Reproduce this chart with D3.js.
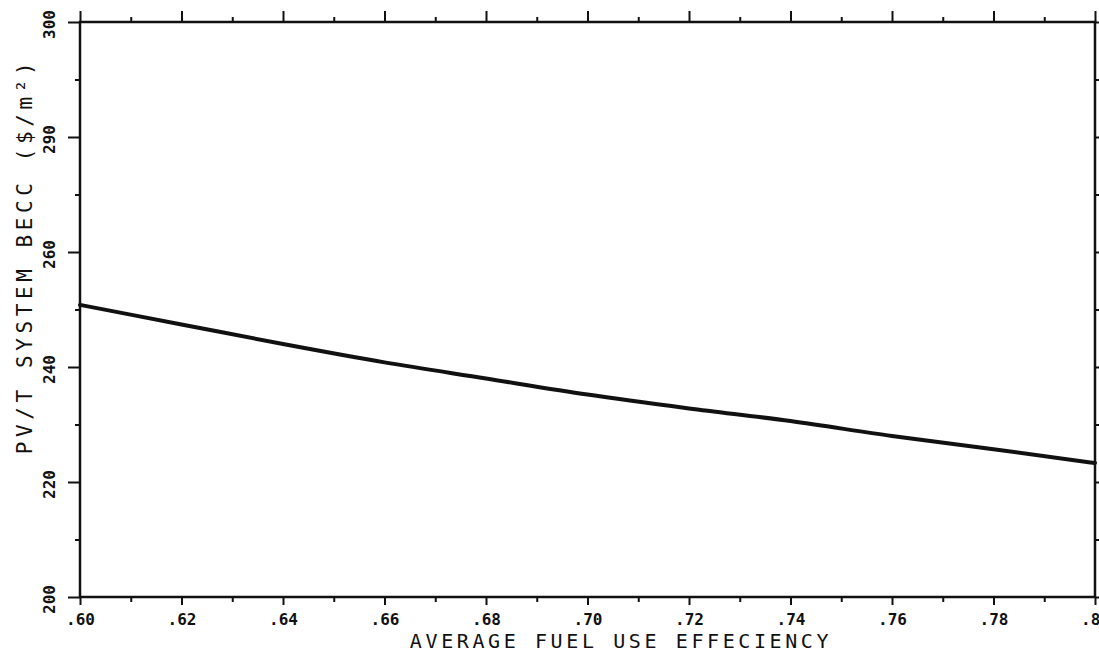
<!DOCTYPE html>
<html>
<head>
<meta charset="utf-8">
<script src="https://cdn.jsdelivr.net/npm/d3@7"></script>
<style>
  html, body { margin: 0; padding: 0; background: #fff; overflow: hidden; }
  svg { display: block; }
  .lbl { font-family: "DejaVu Sans Mono", monospace; fill: #111; }
</style>
</head>
<body>
<svg id="chart" width="1099" height="655"></svg>
<script>
// Fuel use efficiency (x) and the break-even capital cost of the PV/T system (y)
const efficiency = [0.60, 0.62, 0.64, 0.66, 0.68, 0.70, 0.72, 0.74, 0.76, 0.78, 0.80];
const becc       = [250.8, 247.4, 244.0, 240.8, 238.0, 235.2, 232.8, 230.6, 228.0, 225.7, 223.3];

const xMajor = [0.60, 0.62, 0.64, 0.66, 0.68, 0.70, 0.72, 0.74, 0.76, 0.78, 0.80];
const xMinor = [0.61, 0.63, 0.65, 0.67, 0.69, 0.71, 0.73, 0.75, 0.77, 0.79];
const xTickLabels = [".60", ".62", ".64", ".66", ".68", ".70", ".72", ".74", ".76", ".78", ".80"];

const yMajor = [200, 220, 240, 260, 280, 300];
const yMinor = [210, 230, 250, 270, 290];
const yTickLabels = ["200", "220", "240", "260", "290", "300"];

const xTitle = "AVERAGE FUEL USE EFFECIENCY";
const yTitle = "PV/T SYSTEM BECC  ($/m\u00B2)";

const svg = d3.select("#chart");
const plotL = 80, plotR = 1095, plotT = 22, plotB = 597;

const x = d3.scaleLinear().domain([0.60, 0.80]).range([plotL, plotR]);
const y = d3.scaleLinear().domain([200, 300]).range([plotB, plotT]);

const ink = "#111";

function styleAxis(g) {
  g.select(".domain").remove();
  g.selectAll(".tick line").attr("stroke", ink).attr("stroke-width", 2);
}

// bottom axis: major ticks with labels, minor ticks without
svg.append("g")
  .attr("transform", `translate(0,${plotB})`)
  .call(d3.axisBottom(x).tickValues(xMajor).tickSize(8).tickPadding(9)
    .tickFormat((d, i) => xTickLabels[i]))
  .call(styleAxis)
  .call(g => g.selectAll("text")
    .attr("class", "lbl")
    .attr("font-size", 16)
    .attr("font-weight", "bold")
    .attr("fill", ink));

svg.append("g")
  .attr("transform", `translate(0,${plotB})`)
  .call(d3.axisBottom(x).tickValues(xMinor).tickSize(5).tickFormat(""))
  .call(styleAxis);

// top axis ticks
svg.append("g")
  .attr("transform", `translate(0,${plotT})`)
  .call(d3.axisTop(x).tickValues(xMajor).tickSize(11).tickFormat(""))
  .call(styleAxis);
svg.append("g")
  .attr("transform", `translate(0,${plotT})`)
  .call(d3.axisTop(x).tickValues(xMinor).tickSize(5).tickFormat(""))
  .call(styleAxis);

// left axis: rotated labels reading bottom to top
svg.append("g")
  .attr("transform", `translate(${plotL},0)`)
  .call(d3.axisLeft(y).tickValues(yMajor).tickSize(12)
    .tickFormat((d, i) => yTickLabels[i]))
  .call(styleAxis)
  .call(g => g.selectAll("text")
    .attr("class", "lbl")
    .attr("font-size", 16)
    .attr("font-weight", "bold")
    .attr("fill", ink)
    .attr("text-anchor", "middle")
    .attr("transform", "rotate(-90)")
    .attr("x", -2)
    .attr("y", -25)
    .attr("dy", 0));

svg.append("g")
  .attr("transform", `translate(${plotL},0)`)
  .call(d3.axisLeft(y).tickValues(yMinor).tickSize(5).tickFormat(""))
  .call(styleAxis);

// right axis ticks
svg.append("g")
  .attr("transform", `translate(${plotR},0)`)
  .call(d3.axisRight(y).tickValues(yMajor).tickSize(8).tickFormat(""))
  .call(styleAxis);
svg.append("g")
  .attr("transform", `translate(${plotR},0)`)
  .call(d3.axisRight(y).tickValues(yMinor).tickSize(5).tickFormat(""))
  .call(styleAxis);

// plot frame
svg.append("rect")
  .attr("x", plotL).attr("y", plotT)
  .attr("width", plotR - plotL).attr("height", plotB - plotT)
  .attr("fill", "none").attr("stroke", ink).attr("stroke-width", 2.5);

// BECC curve
const line = d3.line()
  .x((d, i) => x(efficiency[i]))
  .y(d => y(d))
  .curve(d3.curveMonotoneX);

svg.append("path")
  .datum(becc)
  .attr("d", line)
  .attr("fill", "none")
  .attr("stroke", ink)
  .attr("stroke-width", 4)
  .attr("stroke-linecap", "round");

// axis titles
svg.append("text")
  .attr("class", "lbl")
  .attr("x", 621).attr("y", 648)
  .attr("text-anchor", "middle")
  .attr("font-size", 20)
  .attr("letter-spacing", 3.6)
  .text(xTitle);

svg.append("text")
  .attr("class", "lbl")
  .attr("transform", "translate(32,256) rotate(-90)")
  .attr("text-anchor", "middle")
  .attr("font-size", 21)
  .attr("letter-spacing", 4.6)
  .text(yTitle);
</script>
</body>
</html>
